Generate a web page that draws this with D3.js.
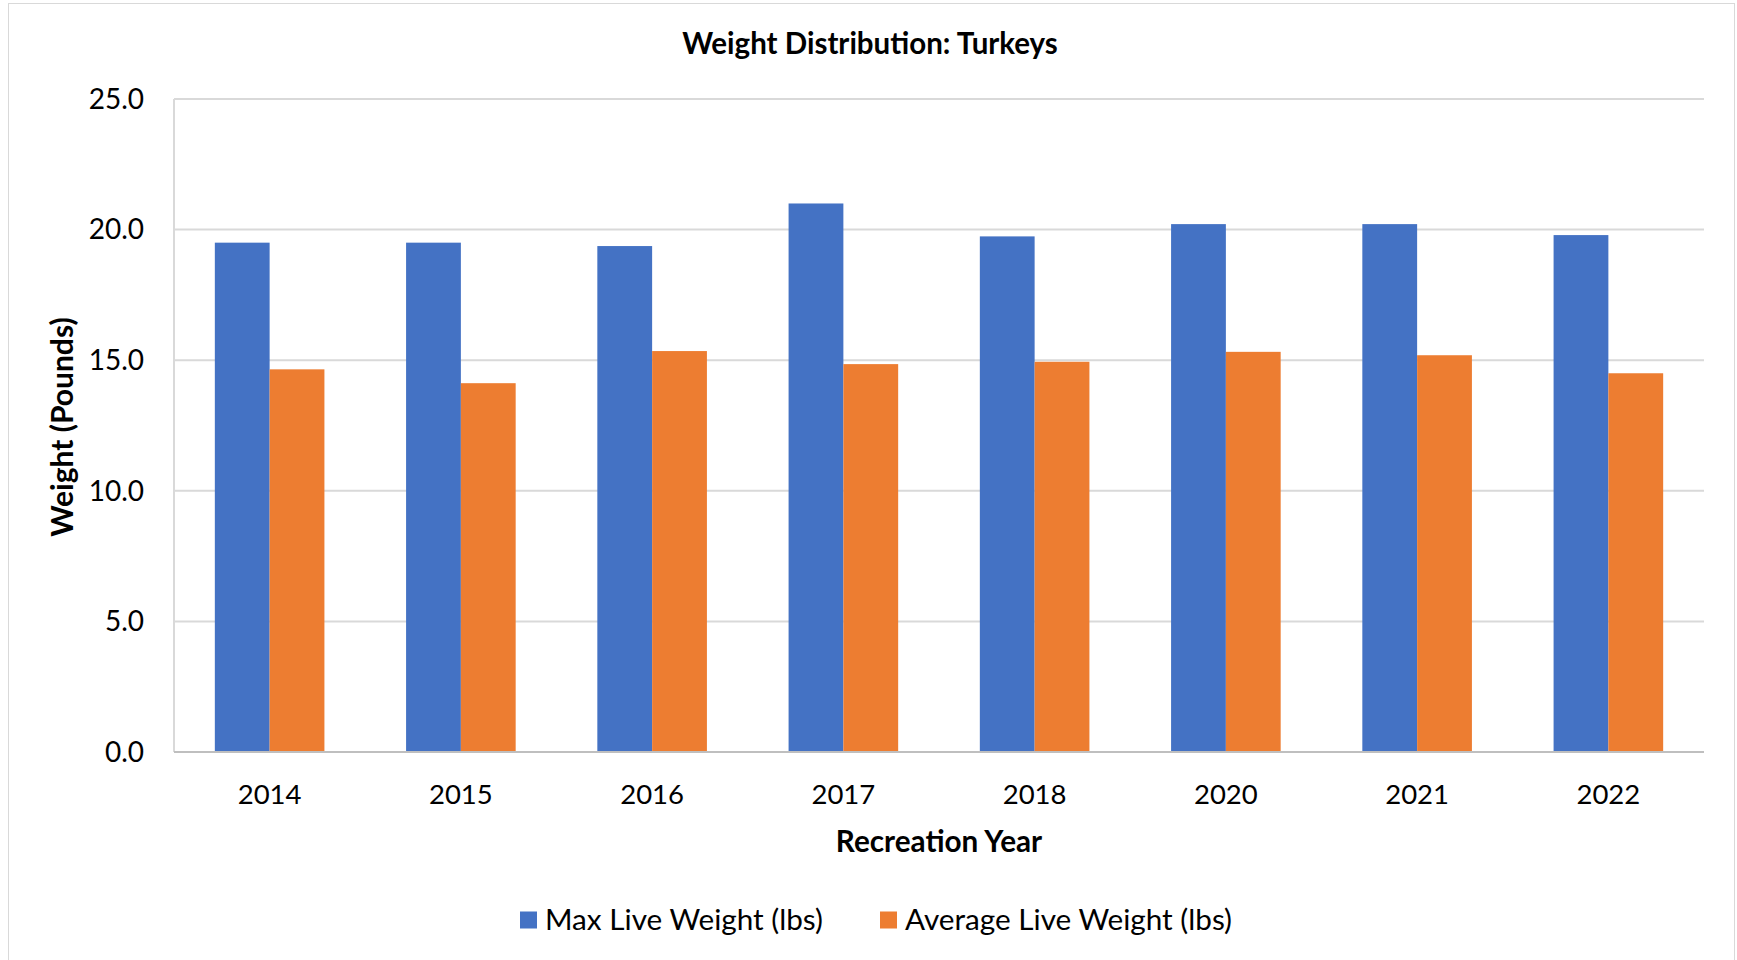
<!DOCTYPE html>
<html>
<head>
<meta charset="utf-8">
<script src="https://cdn.jsdelivr.net/npm/d3@7"></script>
<style>
    body { margin: 0; background: #fff; }
    text { font-family: Lato, "Open Sans", sans-serif; fill: #000; }
</style>
</head>
<body>
<div id="chart"></div>
<script>
const years = ["2014", "2015", "2016", "2017", "2018", "2020", "2021", "2022"];
const maxWeight = [19.5, 19.5, 19.37, 21.0, 19.74, 20.21, 20.21, 19.79];
const avgWeight = [14.65, 14.12, 15.35, 14.85, 14.94, 15.32, 15.19, 14.5];
const seriesNames = ["Max Live Weight (lbs)", "Average Live Weight (lbs)"];
const yTicks = [0, 5, 10, 15, 20, 25];

const colors = ["#4472C4", "#ED7D31"];
const W = 1737, H = 960;
const margin = { left: 174, right: 33, top: 99, bottom: 208 };

const svg = d3.select("#chart").append("svg")
    .attr("width", W)
    .attr("height", H);

// chart frame
svg.append("rect")
    .attr("x", 8.5).attr("y", 3.5)
    .attr("width", 1726).attr("height", 962)
    .attr("fill", "#fff")
    .attr("stroke", "#d9d9d9");

const x = d3.scaleBand()
    .domain(years)
    .range([margin.left, W - margin.right]);

const y = d3.scaleLinear()
    .domain([0, 25])
    .range([H - margin.bottom, margin.top]);

// bars take ~57% of each band (Excel gap width ~150%)
const barW = x.bandwidth() * 0.2865;
const xs = d3.scaleBand()
    .domain([0, 1])
    .range([0, barW * 2]);

// gridlines
svg.append("g")
    .selectAll("line")
    .data(yTicks.slice(1))
    .join("line")
    .attr("x1", margin.left).attr("x2", W - margin.right)
    .attr("y1", d => y(d)).attr("y2", d => y(d))
    .attr("stroke", "#d9d9d9")
    .attr("stroke-width", 2);

// left axis line
svg.append("line")
    .attr("x1", margin.left).attr("x2", margin.left)
    .attr("y1", y(25)).attr("y2", y(0))
    .attr("stroke", "#d9d9d9")
    .attr("stroke-width", 2);

// bars
const series = [maxWeight, avgWeight];
series.forEach((vals, i) => {
    svg.append("g")
        .selectAll("rect")
        .data(vals)
        .join("rect")
        .attr("x", (d, j) => x(years[j]) + x.bandwidth() / 2 - barW + xs(i))
        .attr("y", d => y(d))
        .attr("width", xs.bandwidth())
        .attr("height", d => y(0) - y(d))
        .attr("fill", colors[i]);
});

// bottom axis line
svg.append("line")
    .attr("x1", margin.left).attr("x2", W - margin.right)
    .attr("y1", y(0)).attr("y2", y(0))
    .attr("stroke", "#bfbfbf")
    .attr("stroke-width", 2);

// y tick labels
svg.append("g")
    .selectAll("text")
    .data(yTicks)
    .join("text")
    .attr("x", 144)
    .attr("y", d => y(d))
    .attr("dy", "0.35em")
    .attr("text-anchor", "end")
    .style("font-size", "28px")
    .text(d => d3.format(".1f")(d));

// x tick labels
svg.append("g")
    .selectAll("text")
    .data(years)
    .join("text")
    .attr("x", d => x(d) + x.bandwidth() / 2)
    .attr("y", 794)
    .attr("dy", "0.35em")
    .attr("text-anchor", "middle")
    .style("font-size", "27.5px")
    .text(d => d);

// title
svg.append("text")
    .attr("x", 870).attr("y", 44)
    .attr("dy", "0.35em")
    .attr("text-anchor", "middle")
    .style("font-size", "29.5px")
    .style("font-weight", "bold")
    .text("Weight Distribution: Turkeys");

// axis titles
svg.append("text")
    .attr("x", 939).attr("y", 842)
    .attr("dy", "0.35em")
    .attr("text-anchor", "middle")
    .style("font-size", "29.7px")
    .style("font-weight", "bold")
    .text("Recreation Year");

svg.append("text")
    .attr("transform", "translate(62,427) rotate(-90)")
    .attr("dy", "0.35em")
    .attr("text-anchor", "middle")
    .style("font-size", "30px")
    .style("font-weight", "bold")
    .text("Weight (Pounds)");

// legend
const legendX = [520, 880];
const legend = svg.append("g")
    .selectAll("g")
    .data(seriesNames)
    .join("g")
    .attr("transform", (d, i) => `translate(${legendX[i]},920)`);

legend.append("rect")
    .attr("x", 0).attr("y", -8.5)
    .attr("width", 17).attr("height", 17)
    .attr("fill", (d, i) => colors[i]);

legend.append("text")
    .attr("x", 25)
    .attr("dy", "0.35em")
    .style("font-size", "29.7px")
    .text(d => d);
</script>
</body>
</html>
